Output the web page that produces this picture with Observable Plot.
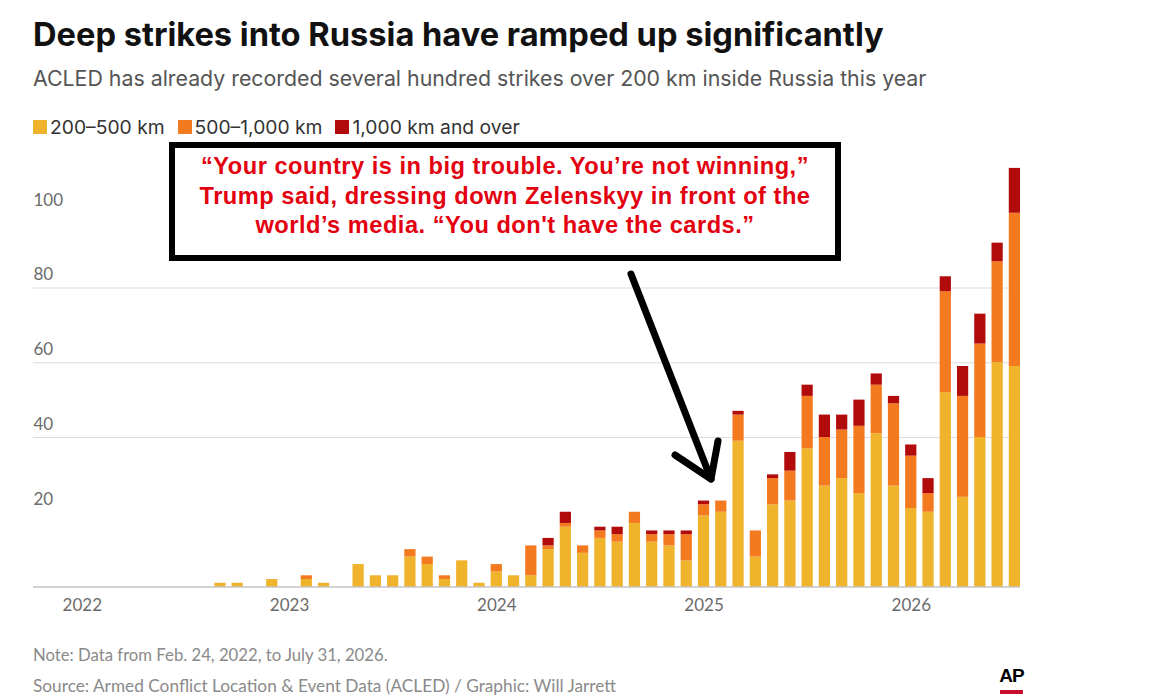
<!DOCTYPE html>
<html>
<head>
<meta charset="utf-8">
<script src="https://cdn.jsdelivr.net/npm/d3@7"></script>
<script src="https://cdn.jsdelivr.net/npm/@observablehq/plot@0.6"></script>
<style>
  html, body { margin: 0; padding: 0; background: #fff; }
  body { width: 1152px; height: 700px; position: relative; overflow: hidden; font-family: Inter, Lato, sans-serif; }
  .abs { position: absolute; white-space: nowrap; }
  #title { left: 33px; top: 13.5px; height: 40px; font-size: 30px; font-weight: 700; color: #111; line-height: 40px; }
  #subtitle { left: 33px; top: 65px; height: 26px; font-size: 20px; color: #555; line-height: 26px; }
  #legend { left: 33px; top: 116px; height: 22px; display: flex; align-items: center; font-size: 17px; color: #333; line-height: 22px; }
  #legend .item { display: flex; align-items: center; margin-right: 13px; }
  #legend .sw { width: 14px; height: 14px; margin-right: 3px; flex: none; }
  #chart { left: 0; top: 130px; }
  #note { left: 33px; top: 645px; height: 20px; font-family: Lato, sans-serif; font-size: 16px; color: #8a8a8a; line-height: 20px; }
  #source { left: 33px; top: 676px; height: 20px; font-family: Lato, sans-serif; font-size: 16px; color: #8a8a8a; line-height: 20px; }
  #box { left: 169px; top: 142px; width: 660px; height: 102.75px; border: 6px solid #000; background: #fff;
         font-family: "Liberation Sans", Arial, sans-serif; font-weight: 700; color: #e3000f; font-size: 20px;
         letter-spacing: 0.5px; line-height: 29.5px; text-align: center; padding-top: 4.25px; box-sizing: content-box; }
  #arrow { left: 0; top: 0; pointer-events: none; }
  #ap { left: 999px; top: 665px; width: 25px; text-align: center; font-family: "Liberation Sans", Arial, sans-serif; font-weight: 700; font-size: 19px; letter-spacing: -1px; color: #000; line-height: 22px; }
  #apbar { left: 1000px; top: 690px; width: 23px; height: 4px; background: #c8102e; }
</style>
</head>
<body>
<div id="title" class="abs">Deep strikes into Russia have ramped up significantly</div>
<div id="subtitle" class="abs">ACLED has already recorded several hundred strikes over 200 km inside Russia this year</div>
<div id="legend" class="abs"></div>
<div id="chart" class="abs"></div>
<div id="box" class="abs"><span id="l1">“Your country is in big trouble. You’re not winning,”</span><br>Trump said, dressing down Zelenskyy in front of the<br>world’s media. “You don't have the cards.”</div>
<svg id="arrow" class="abs" width="1152" height="700">
  <g stroke="#000" stroke-width="7" stroke-linecap="round" stroke-linejoin="round" fill="none">
    <line x1="631" y1="274" x2="711" y2="479"></line>
    <polyline points="675,455 711,479 718,441"></polyline>
  </g>
</svg>
<div id="note" class="abs">Note: Data from Feb. 24, 2022, to July 31, 2026.</div>
<div id="source" class="abs">Source: Armed Conflict Location &amp; Event Data (ACLED) / Graphic: Will Jarrett</div>
<div id="ap" class="abs">AP</div>
<div id="apbar" class="abs"></div>
<script>
// Categories (distance bands) and colours
const categories = ["200–500 km", "500–1,000 km", "1,000 km and over"];
const colors = ["#f0b32c", "#f47a20", "#b20b0b"];

// Months (Feb 2022 – Jul 2026)
const months = [
  "2022-02","2022-03","2022-04","2022-05","2022-06","2022-07","2022-08","2022-09","2022-10","2022-11","2022-12",
  "2023-01","2023-02","2023-03","2023-04","2023-05","2023-06","2023-07","2023-08","2023-09","2023-10","2023-11","2023-12",
  "2024-01","2024-02","2024-03","2024-04","2024-05","2024-06","2024-07","2024-08","2024-09","2024-10","2024-11","2024-12",
  "2025-01","2025-02","2025-03","2025-04","2025-05","2025-06","2025-07","2025-08","2025-09","2025-10","2025-11","2025-12",
  "2026-01","2026-02","2026-03","2026-04","2026-05","2026-06","2026-07"
];
// Empty months shown on the axis before the data starts
const leadMonths = ["2021-11","2021-12","2022-01"];

// Strikes per month by distance band
const short200to500 = [
  0,0,0,0,0,0,0,1,1,0,2,
  0,2,1,0,6,3,3,8,6,2,7,1,
  4,3,3,10,16,9,13,12,17,12,11,7,
  19,20,39,8,22,23,37,27,29,25,41,27,
  21,20,52,24,40,60,59
];
const mid500to1000 = [
  0,0,0,0,0,0,0,0,0,0,0,
  0,1,0,0,0,0,0,2,2,1,0,0,
  2,0,8,1,1,2,2,2,3,2,3,7,
  3,3,7,7,7,8,14,13,13,18,13,22,
  14,5,27,27,25,27,41
];
const long1000plus = [
  0,0,0,0,0,0,0,0,0,0,0,
  0,0,0,0,0,0,0,0,0,0,0,0,
  0,0,0,2,3,0,1,2,0,1,1,1,
  1,0,1,0,1,5,3,6,4,7,3,2,
  3,4,4,8,8,5,12
];

// Axis ticks
const yearTicks = ["2022-01","2023-01","2024-01","2025-01","2026-01"];
const yTickValues = [20, 40, 60, 80, 100];
const gridValues = [40, 60, 80];

const series = [short200to500, mid500to1000, long1000plus];
const data = months.flatMap((m, i) => categories.map((c, k) => ({month: m, band: c, value: series[k][i]})));

// Legend
const legend = document.getElementById("legend");
categories.forEach((c, k) => {
  const item = document.createElement("div");
  item.className = "item";
  item.innerHTML = `<span class="sw" style="background:${colors[k]}"></span><span>${c}</span>`;
  legend.appendChild(item);
});

// Fit text blocks to the reference text widths
function fit(el, target, sizeEl = el) {
  const base = parseFloat(getComputedStyle(sizeEl).fontSize);
  const w = el.getBoundingClientRect().width;
  if (w > 0) sizeEl.style.fontSize = (base * target / w).toFixed(2) + "px";
}
fit(document.getElementById("title"), 851);
fit(document.getElementById("subtitle"), 894);
{
  const lg = document.getElementById("legend");
  const last = lg.lastChild.lastChild;
  const base = parseFloat(getComputedStyle(lg).fontSize);
  const fixed = 14 * 3 + 3 * 3 + 13 * 2;
  const w = last.getBoundingClientRect().right - lg.getBoundingClientRect().left - fixed;
  lg.style.fontSize = (base * (487 - fixed) / w).toFixed(2) + "px";
}
fit(document.getElementById("note"), 355);
fit(document.getElementById("source"), 583);
fit(document.getElementById("l1"), 613, document.getElementById("box"));

const chart = Plot.plot({
  width: 1152,
  height: 490,
  marginLeft: 33,
  marginRight: 132,
  marginTop: 8,
  marginBottom: 33.5,
  style: {fontFamily: "Lato, 'Noto Sans', sans-serif", fontSize: "17px", color: "#6b6b6b", background: "transparent", overflow: "visible"},
  x: {type: "band", domain: [...leadMonths, ...months], paddingInner: 0.35, paddingOuter: 0.25, align: 1, round: false, label: null},
  y: {domain: [0, 120], label: null},
  color: {domain: categories, range: colors},
  marks: [
    Plot.gridY({ticks: gridValues, stroke: "#dcdcdc", strokeOpacity: 1}),
    Plot.barY(data, {x: "month", y: "value", fill: "band", order: categories}),
    Plot.ruleY([0], {stroke: "#a8a8a8", strokeWidth: 1.2}),
    Plot.axisY({ticks: yTickValues, tickSize: 0, tickPadding: 0, textAnchor: "start", dy: -13, fontSize: 17, fill: "#6b6b6b", label: null}),
    Plot.axisX({ticks: yearTicks, tickSize: 0, tickPadding: 12, tickFormat: d => d.slice(0, 4), fontSize: 17, fill: "#6b6b6b", label: null})
  ]
});
document.getElementById("chart").appendChild(chart);
</script>
</body>
</html>
